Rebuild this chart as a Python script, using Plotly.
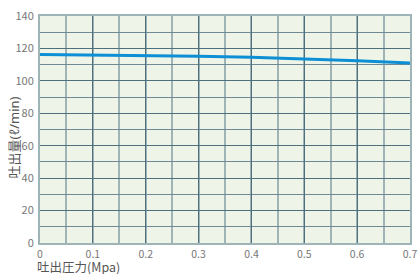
import plotly.graph_objects as go

pressure = [0, 0.1, 0.2, 0.3, 0.4, 0.5, 0.6, 0.7]
flow = [116.2, 116.0, 115.7, 115.2, 114.5, 113.5, 112.4, 111.0]
x_ticks = [0, 0.1, 0.2, 0.3, 0.4, 0.5, 0.6, 0.7]
x_tick_text = ["0", "0.1", "0.2", "0.3", "0.4", "0.5", "0.6", "0.7"]

font = "Noto Sans CJK JP, Noto Sans, sans-serif"
title_font = "Noto Sans, Noto Sans CJK JP, sans-serif"

fig = go.Figure()
fig.add_trace(go.Scatter(x=pressure, y=flow, mode="lines",
                         line=dict(color="#0d8fd6", width=3), hoverinfo="skip"))

fig.update_layout(
    width=420, height=274,
    margin=dict(l=40, r=10, t=16, b=31, autoexpand=False),
    paper_bgcolor="white", plot_bgcolor="#eef5e8",
    showlegend=False,
    font=dict(family=font, size=11, color="#777777"),
    xaxis=dict(range=[0, 0.7], tickvals=x_ticks, ticktext=x_tick_text, automargin=False,
               ticklabeloverflow="allow",
               showgrid=True, gridcolor="#4e6f7c", gridwidth=1,
               minor=dict(dtick=0.05, showgrid=True, gridcolor="#9fb4b6", gridwidth=2),
               zeroline=False, showline=True, linecolor="#9fb4b6", linewidth=2, mirror=True,
               ticks="", tickfont=dict(size=10.5, color="#777777")),
    yaxis=dict(range=[0, 140], dtick=20, automargin=False,
               ticklabeloverflow="allow",
               showgrid=True, gridcolor="#4e6f7c", gridwidth=1,
               minor=dict(dtick=10, showgrid=True, gridcolor="#6f8a94", gridwidth=1),
               zeroline=False, showline=True, linecolor="#9fb4b6", linewidth=2, mirror=True,
               ticks="", ticklabelstandoff=2, tickfont=dict(size=11, color="#777777")),
)

fig.add_annotation(text="吐出圧力(Mpa)", xref="paper", yref="paper", x=0, y=-0.102,
                   xanchor="left", yanchor="middle", showarrow=False, borderpad=0,
                   font=dict(family=font, size=12.5, color="#555555"), xshift=-4)
fig.add_annotation(text="吐出量(ℓ/min)", xref="paper", yref="paper", x=0, y=0.465,
                   xanchor="center", yanchor="middle", textangle=-90, showarrow=False,
                   borderpad=0,
                   font=dict(family=title_font, size=13, color="#555555"), xshift=-26)

fig.write_html("out.html", config={"displayModeBar": False},
               post_script="document.body.style.margin='0';document.body.style.overflow='hidden';")
